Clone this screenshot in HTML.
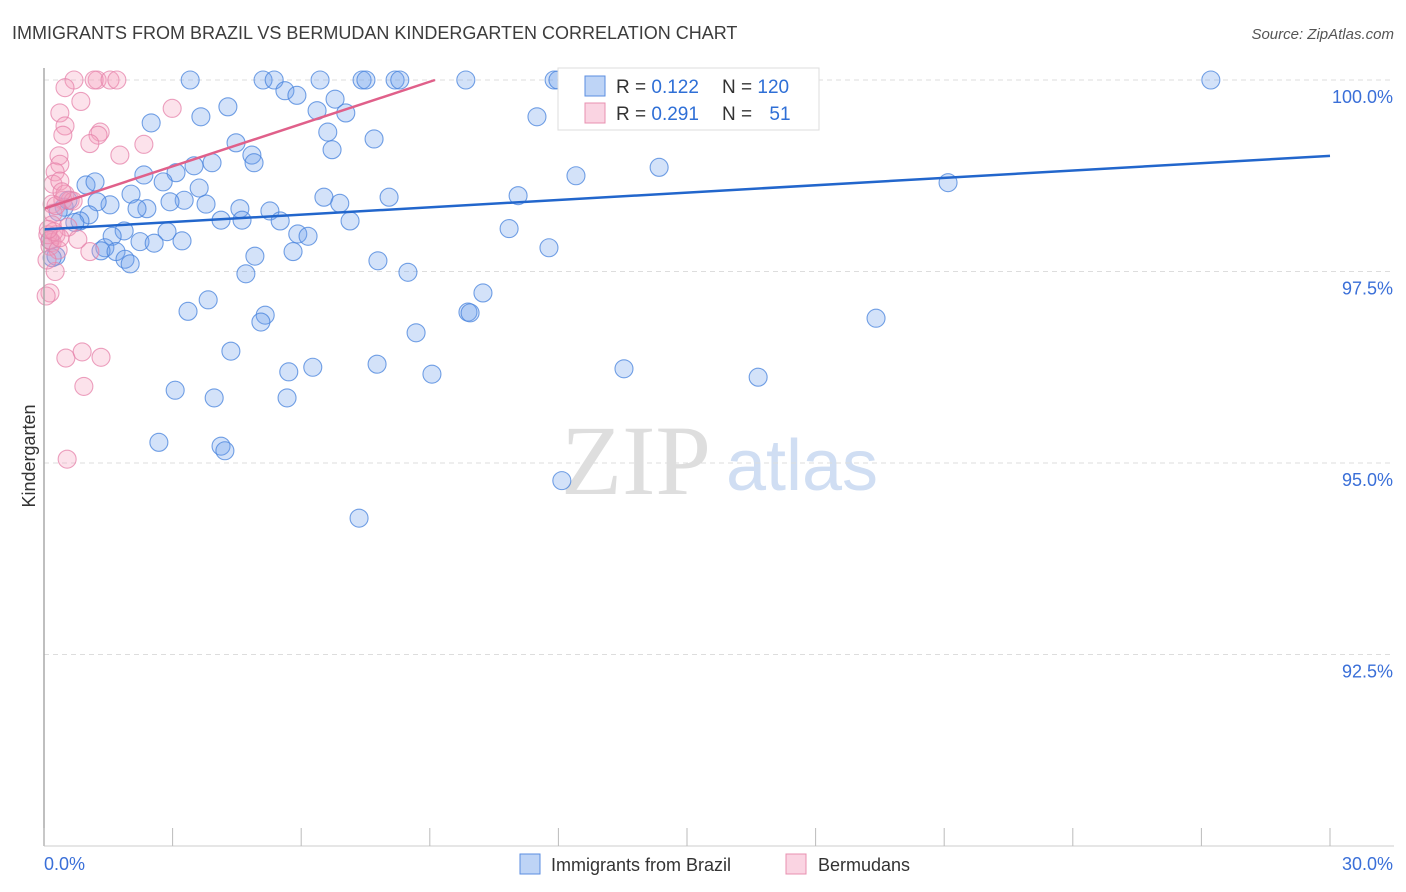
<!DOCTYPE html>
<html><head><meta charset="utf-8"><style>
body{margin:0;background:#fff;font-family:"Liberation Sans",sans-serif;}
#wrap{position:relative;width:1406px;height:892px;overflow:hidden;}
</style></head><body>
<div id="wrap">
<svg id="svg" width="1406" height="892" xmlns="http://www.w3.org/2000/svg">
<text x="12" y="39" font-size="18" fill="#3c3c3c">IMMIGRANTS FROM BRAZIL VS BERMUDAN KINDERGARTEN CORRELATION CHART</text>
<text x="1394" y="39" font-size="15" fill="#555" text-anchor="end" font-style="italic">Source: ZipAtlas.com</text>
<text x="636" y="494" font-size="100" fill="#dedede" text-anchor="middle" font-family="Liberation Serif,serif">ZIP</text>
<text x="802" y="490" font-size="72" fill="#d0def3" text-anchor="middle">atlas</text>
<text x="35" y="456" font-size="18" fill="#333" text-anchor="middle" transform="rotate(-90 35 456)">Kindergarten</text>
<g id="grid"></g><g id="pts"></g><g id="lines"></g>
<line x1="44" y1="68" x2="44" y2="846" stroke="#aaa" stroke-width="1.5"/>
<line x1="44" y1="846" x2="1394" y2="846" stroke="#ccc"/>
<g id="ticks"></g>
<g>
<rect x="558" y="68" width="261" height="62" fill="#fff" stroke="#ddd"/>
<rect x="585" y="76" width="20" height="20" fill="rgba(110,160,235,0.45)" stroke="#5b8ee0"/>
<rect x="585" y="103" width="20" height="20" fill="rgba(245,160,190,0.45)" stroke="#e890b0"/>
<text x="616" y="93" font-size="19" fill="#333">R = <tspan fill="#2f6fd6">0.122</tspan></text>
<text x="722" y="93" font-size="19" fill="#333">N = <tspan fill="#2f6fd6">120</tspan></text>
<text x="616" y="120" font-size="19" fill="#333">R = <tspan fill="#2f6fd6">0.291</tspan></text>
<text x="722" y="120" font-size="19" fill="#333">N = <tspan fill="#2f6fd6" dx="12">51</tspan></text>
</g>
<g>
<rect x="520" y="854" width="20" height="20" fill="rgba(110,160,235,0.45)" stroke="#5b8ee0"/>
<text x="551" y="871" font-size="18" fill="#333">Immigrants from Brazil</text>
<rect x="786" y="854" width="20" height="20" fill="rgba(245,160,190,0.45)" stroke="#e890b0"/>
<text x="818" y="871" font-size="18" fill="#333">Bermudans</text>
</g>
<text x="44" y="870" font-size="18" fill="#3a6fd8">0.0%</text>
<text x="1393" y="870" font-size="18" fill="#3a6fd8" text-anchor="end">30.0%</text>
</svg></div>
<script>
const yTicks=[100,97.5,95,92.5];
const yTickLabels=["100.0%","97.5%","95.0%","92.5%"];
const xTicks=[0,3,6,9,12,15,18,21,24,27,30];
const blueX=[3.41,5.11,5.37,6.44,7.42,7.51,8.19,8.30,9.84,11.90,11.99,16.05,16.28,27.22,5.62,5.90,6.79,4.29,6.37,7.04,3.66,11.50,2.50,6.62,7.70,4.48,6.72,4.85,4.90,3.92,3.50,14.35,12.41,2.33,3.08,2.78,0.98,1.19,3.62,21.09,6.53,8.05,11.06,2.03,3.27,2.94,3.78,6.90,1.54,1.24,0.47,2.40,2.17,4.57,5.27,1.05,0.84,4.13,4.62,5.51,7.14,10.85,2.87,1.87,1.59,5.92,6.16,2.24,2.57,3.22,1.42,1.33,1.68,11.78,5.81,4.92,1.89,2.01,0.28,7.79,8.49,4.71,10.24,3.83,3.36,9.89,9.94,5.16,5.06,19.41,8.68,4.36,7.77,6.27,5.71,9.05,13.53,16.66,3.06,3.97,5.67,2.68,4.13,4.22,12.08,7.35,0.14,0.19,0.33,0.56,0.72];
const blueY=[100,100,100,100,100,100,100,100,100,100,100,100,100,100,99.86,99.80,99.75,99.65,99.60,99.57,99.52,99.52,99.44,99.32,99.23,99.18,99.09,99.02,98.92,98.92,98.88,98.86,98.75,98.76,98.79,98.67,98.63,98.67,98.59,98.66,98.47,98.47,98.49,98.51,98.43,98.41,98.38,98.39,98.37,98.41,98.34,98.32,98.32,98.32,98.29,98.24,98.16,98.17,98.17,98.16,98.16,98.06,98.02,98.03,97.96,97.99,97.96,97.89,97.87,97.90,97.81,97.77,97.76,97.81,97.76,97.70,97.66,97.60,97.70,97.64,97.49,97.47,97.22,97.13,96.98,96.97,96.96,96.93,96.84,96.89,96.70,96.46,96.29,96.25,96.19,96.16,96.23,96.12,95.95,95.85,95.85,95.27,95.22,95.16,94.77,94.28,97.91,97.68,98.28,98.43,98.14];
const pinkX=[0.70,1.24,1.17,1.54,1.70,0.49,0.86,0.37,2.99,0.49,1.31,1.26,0.44,1.07,2.33,1.77,0.35,0.37,0.26,0.21,0.37,0.49,0.44,0.61,0.68,0.19,0.21,0.56,0.19,0.28,0.19,0.79,0.14,1.07,0.26,0.14,0.05,0.51,0.89,1.33,0.93,0.54,0.09,0.14,0.23,0.33,0.07,0.37,0.28,0.42,0.10];
const pinkY=[100,100,100,100,100,99.90,99.72,99.57,99.63,99.40,99.32,99.28,99.28,99.17,99.16,99.02,99.01,98.90,98.80,98.64,98.68,98.51,98.43,98.43,98.42,98.38,98.26,98.08,98.11,97.98,97.88,97.92,97.83,97.76,97.50,97.22,97.18,96.37,96.45,96.38,96.00,95.05,97.98,97.91,98.02,97.78,97.65,97.94,98.36,98.54,98.05];
const blueTrend=[0,98.05,30,99.01];
const pinkTrend=[0,98.32,9.12,100];
const X=v=>44+v*1286/30, Y=v=>80+(100-v)*76.6;
const NS="http://www.w3.org/2000/svg";
function mk(t,a,p){const e=document.createElementNS(NS,t);for(const k in a)e.setAttribute(k,a[k]);p.appendChild(e);return e;}
const grid=document.getElementById('grid'),ticks=document.getElementById('ticks'),pts=document.getElementById('pts'),lines=document.getElementById('lines');
yTicks.forEach((t,i)=>{
 const l=mk('line',{x1:44,x2:1394,y1:Y(t),y2:Y(t),stroke:'#ddd','stroke-dasharray':'5,4'},grid);
 
 
 const tx=mk('text',{x:1393,y:Y(t)+23,'font-size':18,fill:'#3a6fd8','text-anchor':'end'},ticks);
 tx.textContent=yTickLabels[i];
 
 
});
xTicks.forEach(t=>{
 const l=mk('line',{x1:X(t),x2:X(t),y1:828,y2:846,stroke:'#bbb'},ticks);
 
 
});
blueX.forEach((x,i)=>{
 const c=mk('circle',{cx:X(x),cy:Y(blueY[i]),r:9,fill:'rgba(110,160,235,0.3)',stroke:'rgba(70,130,220,0.75)','stroke-width':1.1},pts);
 
 
});
pinkX.forEach((x,i)=>{
 const c=mk('circle',{cx:X(x),cy:Y(pinkY[i]),r:9,fill:'rgba(245,160,190,0.3)',stroke:'rgba(230,130,170,0.75)','stroke-width':1.1},pts);
 
 
});
const bl=mk('line',{x1:X(blueTrend[0]),y1:Y(blueTrend[1]),x2:X(blueTrend[2]),y2:Y(blueTrend[3]),stroke:'#2266cc','stroke-width':2.5},lines);


const pl=mk('line',{x1:X(pinkTrend[0]),y1:Y(pinkTrend[1]),x2:X(pinkTrend[2]),y2:Y(pinkTrend[3]),stroke:'#e0608a','stroke-width':2.5},lines);


</script>
</body></html>
